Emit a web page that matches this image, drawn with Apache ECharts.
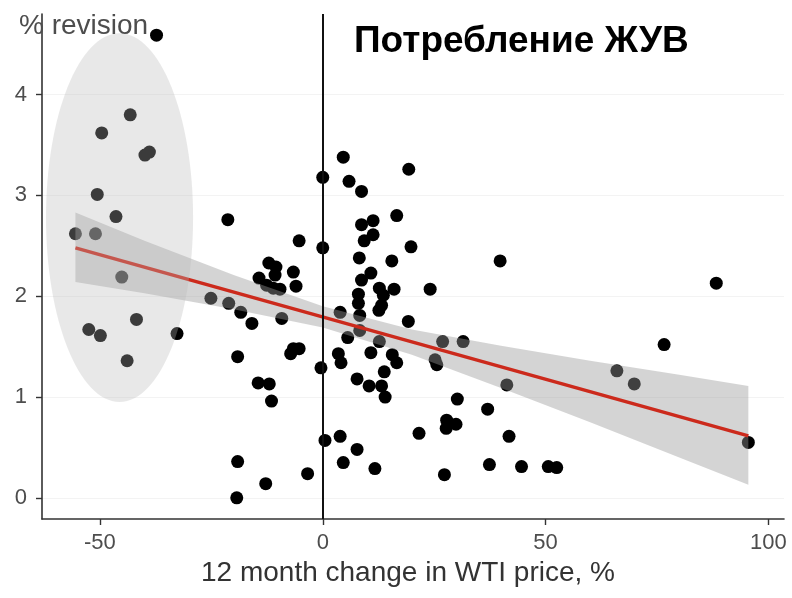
<!DOCTYPE html>
<html>
<head>
<meta charset="utf-8">
<script src="https://cdn.jsdelivr.net/npm/echarts@6/dist/echarts.min.js"></script>
<style>
  html, body { margin: 0; padding: 0; background: #ffffff; }
  #chart { width: 792px; height: 598px; }
</style>
</head>
<body>
<div id="chart"></div>
<script>
// ---- data ----
const wtiChange = [
  -37.3, -43.2, -49.6, -39.9, -38.9, -50.6, -46.4, -55.5, -51.0, -45.1, -41.8, -52.5, -49.9, -32.7, -43.9,
  -21.3, -5.3, 0.0, -12.1, -10.5, -6.6, -10.7, -14.3, -12.6, -11.1, -9.6, -6.0, -25.1, -21.1, -18.4,
  -15.9, -9.2, -6.6, -5.3, -7.2, -19.1, -0.4, -14.5, -12.0, -11.5, 0.5, -19.1, -3.4, -12.8, -19.3,
  4.6, 19.3, 0.0, 5.9, 8.7, 16.6, 11.3, 8.7, 11.3, 9.3, 19.8, 8.2, 15.5, 10.8, 8.7,
  12.7, 16.0, 24.1, 8.0, 13.6, 39.8, 8.0, 13.2, 12.6, 3.9, 8.3, 19.2, 8.3, 5.6, 12.7,
  3.5, 4.1, 10.8, 15.6, 16.6, 25.2, 25.6, 13.8, 7.7, 10.4, 13.2, 14.0, 26.9, 31.5, 41.3,
  30.2, 37.0, 27.8, 29.9, 27.7, 21.6, 41.8, 3.9, 7.7, 4.6, 11.7, 27.3, 37.4, 44.6, 50.6,
  52.5, 88.3, 76.6, 66.0, 69.9, 95.5
];
const revision = [
  4.59, 3.80, 3.62, 3.40, 3.43, 3.01, 2.79, 2.62, 2.62, 2.19, 1.77, 1.67, 1.61, 1.63, 1.36,
  2.76, 2.55, 2.48, 2.33, 2.29, 2.24, 2.21, 2.18, 2.11, 2.08, 2.07, 2.10, 1.98, 1.93, 1.84,
  1.73, 1.78, 1.48, 1.48, 1.43, 1.40, 1.29, 1.14, 1.13, 0.96, 0.57, 0.36, 0.24, 0.14, 0.00,
  3.38, 3.26, 3.18, 3.14, 3.04, 2.80, 2.75, 2.71, 2.61, 2.55, 2.49, 2.38, 2.35, 2.23, 2.16,
  2.08, 2.07, 2.07, 2.02, 2.01, 2.35, 1.93, 1.91, 1.86, 1.84, 1.81, 1.75, 1.66, 1.59, 1.55,
  1.43, 1.34, 1.44, 1.42, 1.34, 1.37, 1.32, 1.25, 1.18, 1.11, 1.11, 1.00, 1.55, 1.55, 1.12,
  0.98, 0.88, 0.77, 0.73, 0.69, 0.64, 0.61, 0.61, 0.48, 0.35, 0.29, 0.23, 0.33, 0.31, 0.31,
  0.30, 2.13, 1.52, 1.26, 1.13, 0.55
];
// fitted regression line (end points) and its confidence band
const fitX = [-55.5, 95.5];
const fitY = [2.48, 0.615];
const bandX  = [-55.5, -40, -20, 0, 20, 40, 60, 80, 95.5];
const bandLo = [2.14, 2.03, 1.87, 1.69, 1.42, 1.09, 0.75, 0.40, 0.13];
const bandHi = [2.83, 2.55, 2.21, 1.90, 1.67, 1.51, 1.36, 1.22, 1.11];
// highlighted region (data units): centre and half-extents
const highlightCenter = [-45.6, 2.78];
const highlightRadius = [16.5, 1.83];
// axis ticks
const xTicks = [-50, 0, 50, 100];
const yTicks = [0, 1, 2, 3, 4];
const chartTitle = 'Потребление ЖУВ';
const yName = '% revision';
const xName = '12 month change in WTI price, %';

// ---- chart ----
const FONT = '"Liberation Sans", Arial, Helvetica, sans-serif';
const chart = echarts.init(document.getElementById('chart'), null, { renderer: 'canvas' });

const points = wtiChange.map((x, i) => [x, revision[i]]);
const fitData = fitX.map((x, i) => [x, fitY[i]]);

const option = {
  backgroundColor: '#ffffff',
  animation: false,
  title: [
    { text: chartTitle, left: 349, top: 18,
      textStyle: { fontFamily: FONT, fontSize: 37, fontWeight: 'bold', color: '#000000' } },
    { text: yName, left: 14, top: 7,
      textStyle: { fontFamily: FONT, fontSize: 28, fontWeight: 'normal', color: '#4d4d4d' } }
  ],
  grid: { left: 42, right: 8, top: 14, bottom: 79, containLabel: false },
  xAxis: {
    type: 'value', min: -63, max: 103.5,
    name: xName, nameLocation: 'middle', nameGap: 36,
    nameTextStyle: { fontFamily: FONT, fontSize: 28, color: '#333333', padding: [0, 10, 0, 0] },
    axisLine: { show: true, onZero: false, lineStyle: { color: '#333333', width: 1.6 } },
    axisTick: { show: true, length: 6, customValues: xTicks, lineStyle: { color: '#333333', width: 1.4 } },
    axisLabel: { customValues: xTicks, margin: 13, fontFamily: FONT, fontSize: 22, color: '#4d4d4d' },
    splitLine: { show: false }
  },
  yAxis: {
    type: 'value', min: -0.21, max: 4.8, splitNumber: 5,
    axisLine: { show: true, onZero: false, lineStyle: { color: '#333333', width: 1.6 } },
    axisTick: { show: true, length: 6, customValues: yTicks, lineStyle: { color: '#333333', width: 1.4 } },
    axisLabel: { customValues: yTicks, margin: 15, fontFamily: FONT, fontSize: 22, color: '#4d4d4d' },
    splitLine: { show: true, lineStyle: { color: '#f3f3f3', width: 1 } }
  },
  series: [
    { // vertical zero line
      type: 'scatter', data: [], z: 1, silent: true,
      markLine: {
        silent: true, symbol: 'none', animation: false,
        label: { show: false },
        lineStyle: { color: '#111111', width: 2, type: 'solid' },
        data: [{ xAxis: 0 }]
      }
    },
    {
      type: 'scatter', data: points, symbolSize: 13, z: 2, silent: true,
      itemStyle: { color: '#000000', opacity: 1 }
    },
    { // confidence band
      type: 'custom', z: 3, silent: true,
      data: [[bandX[0], bandLo[0]]],
      renderItem: function (params, api) {
        const pts = [];
        for (let i = 0; i < bandX.length; i++) pts.push(api.coord([bandX[i], bandHi[i]]));
        for (let i = bandX.length - 1; i >= 0; i--) pts.push(api.coord([bandX[i], bandLo[i]]));
        return { type: 'polygon', shape: { points: pts }, style: { fill: 'rgba(153,153,153,0.42)' } };
      }
    },
    {
      type: 'line', data: fitData, z: 4, silent: true, symbol: 'none',
      lineStyle: { color: '#cc2a1c', width: 3.5 }
    },
    { // highlighted region
      type: 'custom', z: 5, silent: true,
      data: [highlightCenter],
      renderItem: function (params, api) {
        const c = api.coord(highlightCenter);
        const s = api.size(highlightRadius, highlightCenter);
        return { type: 'ellipse', shape: { cx: c[0], cy: c[1], rx: s[0], ry: s[1] },
                 style: { fill: 'rgba(185,185,185,0.32)' } };
      }
    }
  ]
};
chart.setOption(option);
</script>
</body>
</html>
